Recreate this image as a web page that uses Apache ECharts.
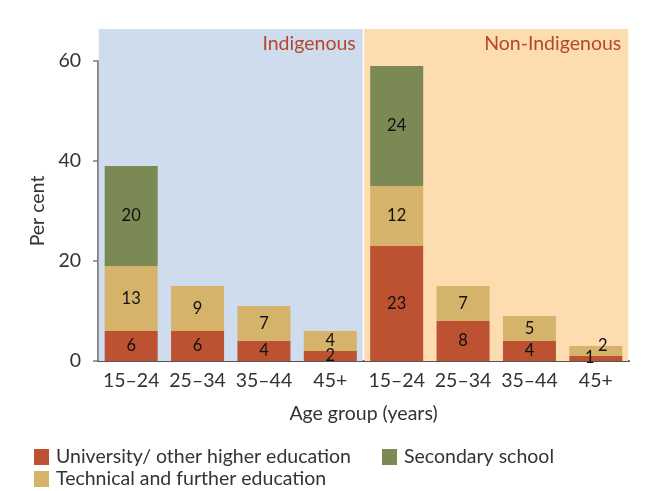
<!DOCTYPE html>
<html><head><meta charset="utf-8">
<script src="https://cdn.jsdelivr.net/npm/echarts@6/dist/echarts.min.js"></script>
<style>html,body{margin:0;padding:0;background:#fff}#c{width:659px;height:491px}</style>
</head><body><div id="c"></div>
<script>
const categories = ['15–24','25–34','35–44','45+','15–24','25–34','35–44','45+'];
const groups = ['Indigenous','Non-Indigenous'];
const university = [6,6,4,2,23,8,4,1];
const technical = [13,9,7,4,12,7,5,2];
const secondary = [20,null,null,null,24,null,null,null];
const yTicks = [0,20,40,60];
const panelTop = 66.4;

const FONT = 'Lato';
const FS = 19.5;
const chart = echarts.init(document.getElementById('c'), null, {renderer:'canvas'});
const labelBase = {show:true, position:'inside', color:'#111', fontSize:16.5, fontFamily:FONT};
function withOffsets(arr, offsets){
  return arr.map((v,i)=> offsets[i] ? {value:v, label:{offset:offsets[i]}} : v);
}
const legendText = {color:'#333', fontSize:FS, fontFamily:FONT, padding:[0,0,0,2]};
chart.setOption({
  animation:false,
  textStyle:{fontFamily:FONT},
  grid:[
    {left:98, right:30, top:61, bottom:130},
    {left:98, right:30, top:29, bottom:130}
  ],
  xAxis:[
    {type:'category', gridIndex:0, data:categories,
     axisLine:{lineStyle:{color:'#555', width:2}}, axisTick:{show:false},
     axisLabel:{color:'#333', fontSize:FS, margin:10, fontFamily:FONT, interval:0},
     name:'Age group (years)', nameLocation:'middle', nameGap:43,
     nameTextStyle:{color:'#333', fontSize:FS, fontFamily:FONT}},
    {type:'category', gridIndex:1, data:groups, show:false}
  ],
  yAxis:[
    {type:'value', gridIndex:0, min:yTicks[0], max:yTicks[yTicks.length-1], interval:20,
     axisLine:{show:true, lineStyle:{color:'#808080', width:2}},
     axisTick:{show:true, length:5, lineStyle:{color:'#808080', width:1.5}},
     splitLine:{show:false},
     axisLabel:{color:'#333', fontSize:FS, margin:17, fontFamily:FONT},
     name:'Per cent', nameLocation:'middle', nameGap:50,
     nameTextStyle:{color:'#333', fontSize:FS, fontFamily:FONT}},
    {type:'value', gridIndex:1, min:0, max:panelTop, show:false}
  ],
  legend:[
    {data:['University/ other higher education','Secondary school'],
     left:29, top:442, itemWidth:15, itemHeight:16, itemGap:31,
     icon:'rect', textStyle:legendText},
    {data:['Technical and further education'],
     left:29, top:464, itemWidth:15, itemHeight:16,
     icon:'rect', textStyle:legendText}
  ],
  series:[
    {type:'bar', xAxisIndex:1, yAxisIndex:1, silent:true,
     data:[{value:panelTop, itemStyle:{color:'#cedcee'}},{value:panelTop, itemStyle:{color:'#fddcb0'}}],
     barWidth:264, z:0,
     label:{show:true, position:'insideTopRight', distance:5, color:'#b5472b', fontSize:FS, fontFamily:FONT,
       formatter:p=>p.name, offset:[-2,0]}},
    {name:'University/ other higher education', type:'bar', stack:'a', barWidth:53,
     itemStyle:{color:'#bc5232'}, label:labelBase,
     data:withOffsets(university,{7:[-6,-1]})},
    {name:'Technical and further education', type:'bar', stack:'a',
     itemStyle:{color:'#d5b36b'}, label:labelBase,
     data:withOffsets(technical,{7:[7,-5]})},
    {name:'Secondary school', type:'bar', stack:'a',
     itemStyle:{color:'#7b8a55'}, label:labelBase,
     data:secondary}
  ]
});
</script></body></html>
